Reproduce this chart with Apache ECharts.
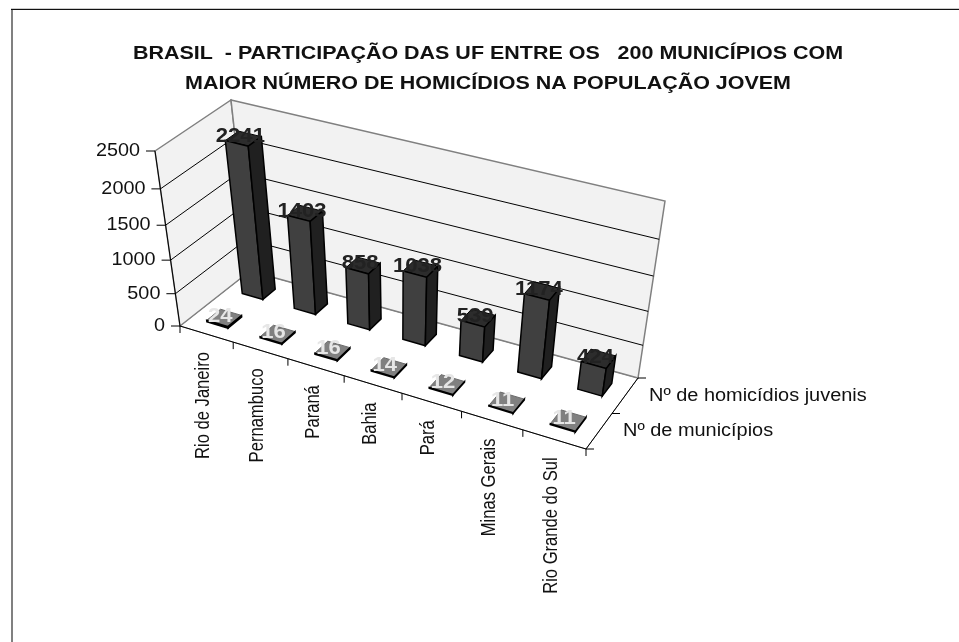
<!DOCTYPE html>
<html>
<head>
<meta charset="utf-8">
<style>html,body{margin:0;padding:0;background:#fff}#chart{width:959px;height:642px}</style>
<script src="https://cdn.jsdelivr.net/npm/echarts@6/dist/echarts.min.js"></script>
</head>
<body>
<div id="chart"></div>
<script>
const categories = ['Rio de Janeiro', 'Pernambuco', 'Paraná', 'Bahia', 'Pará', 'Minas Gerais', 'Rio Grande do Sul']
const homicidios = [2241, 1403, 858, 1038, 539, 1174, 424]
const municipios = [24, 16, 16, 14, 12, 11, 11]
const seriesNames = ['Nº de homicídios juvenis', 'Nº de municípios']
const yTicks = [0, 500, 1000, 1500, 2000, 2500]
const titleText = 'BRASIL  - PARTICIPAÇÃO DAS UF ENTRE OS   200 MUNICÍPIOS COM\nMAIOR NÚMERO DE HOMICÍDIOS NA POPULAÇÃO JOVEM'

const FONT = '"Liberation Sans", Arial, sans-serif'
const yMax = 2500

// cantos da caixa 3D na tela: [base, topo]
const box = {
	frontLeft: [[180, 326], [155, 151]],
	backLeft: [[250, 271], [231, 100]],
	backRight: [[638, 378], [665, 201]],
	frontRight: [[586, 449], [615, 271]]
}
const lerp = (a, b, k) => a + (b - a) * k
const lerp2 = (a, b, k) => [lerp(a[0], b[0], k), lerp(a[1], b[1], k)]
// perspectiva leve, como no grafico original
const warp = (k) => k * 0.905 / (1 + k * (0.905 - 1))

// categoria/valor passam pelas escalas do eixo (api.coord), depois pela projecao
function project(api, cat, depth, val) {
	const c0 = api.coord([0, 0])
	const c1 = api.coord([categories.length, yMax])
	const c = api.coord([cat, val])
	const u = warp((c[0] - c0[0]) / (c1[0] - c0[0]))
	const v = warp((c[1] - c0[1]) / (c1[1] - c0[1]))
	const corner = (i) => lerp2(
		lerp2(box.frontLeft[i], box.frontRight[i], u),
		lerp2(box.backLeft[i], box.backRight[i], u),
		depth
	)
	return lerp2(corner(0), corner(1), v)
}
function poly(points, fill, stroke, lineWidth) {
	return { type: 'polygon', shape: { points: points }, style: { fill: fill, stroke: stroke, lineWidth: lineWidth } }
}
function line(a, b, stroke, lineWidth) {
	return { type: 'line', shape: { x1: a[0], y1: a[1], x2: b[0], y2: b[1] }, style: { stroke: stroke, lineWidth: lineWidth } }
}
// o texto do original e esticado/comprimido na horizontal, dai o scaleX
function text(str, x, y, font, fill, align, rotation, scaleX) {
	return {
		type: 'text', x: x, y: y, rotation: rotation || 0, scaleX: scaleX || 1,
		style: { text: str, font: font, fill: fill, textAlign: align || 'center', textVerticalAlign: 'middle' }
	}
}

function renderFrame(params, api) {
	const n = categories.length
	const children = [
		poly([project(api, 0, 0, 0), project(api, n, 0, 0), project(api, n, 1, 0), project(api, 0, 1, 0)], '#fff', '#808080', 1),
		poly([project(api, 0, 0, 0), project(api, 0, 1, 0), project(api, 0, 1, yMax), project(api, 0, 0, yMax)], '#f2f2f2', '#808080', 1.5),
		poly([project(api, 0, 1, 0), project(api, n, 1, 0), project(api, n, 1, yMax), project(api, 0, 1, yMax)], '#f2f2f2', '#808080', 1.5)
	]
	// eixo da frente e eixo de profundidade
	children.push(line(project(api, 0, 0, 0), project(api, 0, 0, yMax), '#000', 1))
	children.push(line(project(api, 0, 0, 0), project(api, n, 0, 0), '#000', 1))
	children.push(line(project(api, n, 0, 0), project(api, n, 1, 0), '#000', 1))
	for (let i = 0; i <= n; i++) {
		const p = project(api, i, 0, 0)
		children.push(line(p, [p[0], p[1] + 7], '#000', 1))
	}
	for (let d = 0; d <= 2; d++) {
		const p = project(api, n, d / 2, 0)
		children.push(line(p, [p[0] + 8, p[1]], '#000', 1))
	}
	const l0 = project(api, n, 0.75, 0)
	const l1 = project(api, n, 0.25, 0)
	children.push(text(seriesNames[0], l0[0] + 24, l0[1], '18px ' + FONT, '#111', 'left', 0, 1.107))
	children.push(text(seriesNames[1], l1[0] + 24, l1[1], '18px ' + FONT, '#111', 'left', 0, 1.107))
	return { type: 'group', children: children }
}
function renderTick(params, api) {
	const n = categories.length
	const val = api.value(0)
	const a = project(api, 0, 0, val)
	const b = project(api, 0, 1, val)
	const c = project(api, n, 1, val)
	const children = [
		line([a[0] - 9, a[1]], a, '#000', 1),
		text(String(val), a[0] - 15, a[1], '18px ' + FONT, '#111', 'right', 0, 1.1)
	]
	if (val > 0 && val < yMax) {
		children.push(line(a, b, '#000', 1), line(b, c, '#000', 1))
	}
	return { type: 'group', children: children }
}
function renderBar(faces, topStroke, d0, d1, labelFill, labelDx, labelDy) {
	return function (params, api) {
		const i = api.value(0)
		const val = api.value(1)
		const l = i + 0.3
		const r = i + 0.7
		const fl0 = project(api, l, d0, 0)
		const fr0 = project(api, r, d0, 0)
		const br0 = project(api, r, d1, 0)
		const fl1 = project(api, l, d0, val)
		const fr1 = project(api, r, d0, val)
		const br1 = project(api, r, d1, val)
		const bl1 = project(api, l, d1, val)
		const mid = project(api, i + 0.5, (d0 + d1) / 2, val)
		return {
			type: 'group',
			children: [
				poly([fl1, fr1, br1, bl1], faces[2], topStroke, 1),
				poly([fl0, fr0, fr1, fl1], faces[0], '#000', 1.5),
				poly([fr0, br0, br1, fr1], faces[1], '#000', 1.5),
				text(String(val), mid[0] + labelDx, mid[1] + labelDy, 'bold 21px ' + FONT, labelFill, 'center', 0, 1.05)
			]
		}
	}
}
function renderCategory(params, api) {
	const i = api.value(0)
	const p = project(api, i + 0.5, 0, 0)
	return text(categories[i], p[0] - 3, p[1] + 18, '21px ' + FONT, '#111', 'right', Math.PI / 2, 0.79)
}

function customSeries(renderItem, data) {
	return { type: 'custom', silent: true, clip: false, renderItem: renderItem, data: data }
}

const chart = echarts.init(document.getElementById('chart'), null, { renderer: 'canvas' })
chart.setOption({
	animation: false,
	backgroundColor: '#fff',
	grid: { left: 100, right: 100, top: 100, bottom: 100, show: false },
	xAxis: { type: 'value', min: 0, max: categories.length, show: false },
	yAxis: { type: 'value', min: 0, max: yMax, show: false },
	graphic: [
		{ type: 'line', shape: { x1: 12, y1: 9, x2: 12, y2: 642 }, style: { stroke: '#808080', lineWidth: 2 } },
		{ type: 'line', shape: { x1: 11, y1: 8.5, x2: 959, y2: 8.5 }, style: { stroke: '#cccccc', lineWidth: 1 } },
		{ type: 'line', shape: { x1: 11, y1: 9.5, x2: 959, y2: 9.5 }, style: { stroke: '#111111', lineWidth: 1 } },
		{
			type: 'text', x: 488, y: 39, scaleX: 1.13,
			style: { text: titleText, font: 'bold 19px ' + FONT, fill: '#111', textAlign: 'center', lineHeight: 30 }
		}
	],
	series: [
		customSeries(renderFrame, [[0]]),
		customSeries(renderTick, yTicks.map((v) => [v])),
		customSeries(renderBar(['#404040', '#202020', '#2c2c2c'], '#000', 0.67, 0.85, '#222', -3, -2), homicidios.map((v, i) => [i, v])),
		customSeries(renderBar(['#aaaaaa', '#111111', '#808080'], '#6a6a6a', 0.16, 0.36, '#e6e6e6', -4, -2), municipios.map((v, i) => [i, v])),
		customSeries(renderCategory, categories.map((c, i) => [i]))
	]
})
</script>
</body>
</html>
